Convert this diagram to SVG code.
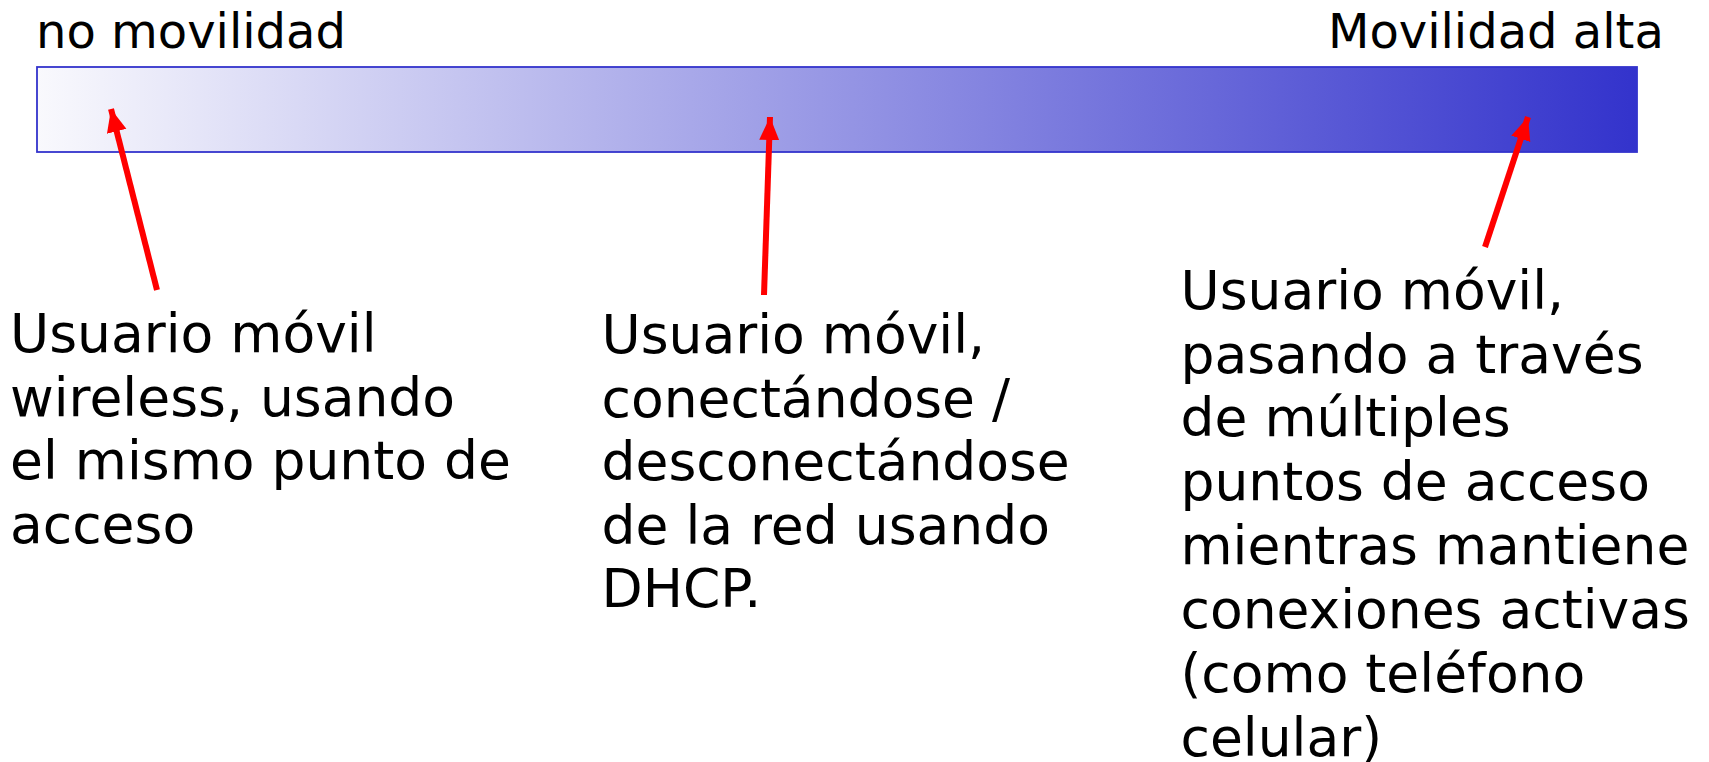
<svg xmlns="http://www.w3.org/2000/svg" width="1709" height="762" viewBox="0 0 1709 762">
  <defs>
    <linearGradient id="barGrad" x1="0" y1="0" x2="1" y2="0">
      <stop offset="0" stop-color="#f9f9fd"/>
      <stop offset="1" stop-color="#3333cc"/>
    </linearGradient>
    <marker id="arrowHead" markerUnits="userSpaceOnUse" markerWidth="24" markerHeight="24" viewBox="0 0 24 24" refX="23" refY="12" orient="auto">
      <path d="M0,2 L23,12 L0,22 Z" fill="#ff0000"/>
    </marker>
    <style>
      .title { font-family: "DejaVu Sans", "Noto Sans", sans-serif; font-size: 48px; fill: #000; }
      .body { font-family: "DejaVu Sans", "Noto Sans", sans-serif; font-size: 53.5px; fill: #000; }
      .arrow { stroke: #ff0000; stroke-width: 6; fill: none; marker-end: url(#arrowHead); }
    </style>
  </defs>
  <rect width="1709" height="762" fill="#ffffff"/>

  <g id="bar">
    <rect x="37" y="67" width="1600" height="85" fill="url(#barGrad)" stroke="#3333cc" stroke-width="1.8"/>
  </g>

  <g id="label-no-movilidad">
    <text class="title" x="36" y="48">no movilidad</text>
  </g>
  <g id="label-movilidad-alta">
    <text class="title" x="1328" y="48">Movilidad alta</text>
  </g>

  <g id="connectors">
    <line class="arrow" x1="157" y1="290" x2="111" y2="109"/>
    <line class="arrow" x1="764" y1="295" x2="770" y2="117"/>
    <line class="arrow" x1="1485" y1="247" x2="1528" y2="117"/>
  </g>

  <g id="node-left">
    <text class="body" x="10" y="352">
      <tspan x="10" y="352">Usuario móvil</tspan>
      <tspan x="10" y="415.5">wireless, usando</tspan>
      <tspan x="10" y="479">el mismo punto de</tspan>
      <tspan x="10" y="543">acceso</tspan>
    </text>
  </g>

  <g id="node-middle">
    <text class="body" x="601.5" y="353">
      <tspan x="601.5" y="353">Usuario móvil,</tspan>
      <tspan x="601.5" y="416.5">conectándose /</tspan>
      <tspan x="601.5" y="480">desconectándose</tspan>
      <tspan x="601.5" y="543.5">de la red usando</tspan>
      <tspan x="601.5" y="607">DHCP.</tspan>
    </text>
  </g>

  <g id="node-right">
    <text class="body" x="1180.5" y="309">
      <tspan x="1180.5" y="309">Usuario móvil,</tspan>
      <tspan x="1180.5" y="372.5">pasando a través</tspan>
      <tspan x="1180.5" y="436">de múltiples</tspan>
      <tspan x="1180.5" y="500">puntos de acceso</tspan>
      <tspan x="1180.5" y="564">mientras mantiene</tspan>
      <tspan x="1180.5" y="628">conexiones activas</tspan>
      <tspan x="1180.5" y="692">(como teléfono</tspan>
      <tspan x="1180.5" y="756">celular)</tspan>
    </text>
  </g>
</svg>
